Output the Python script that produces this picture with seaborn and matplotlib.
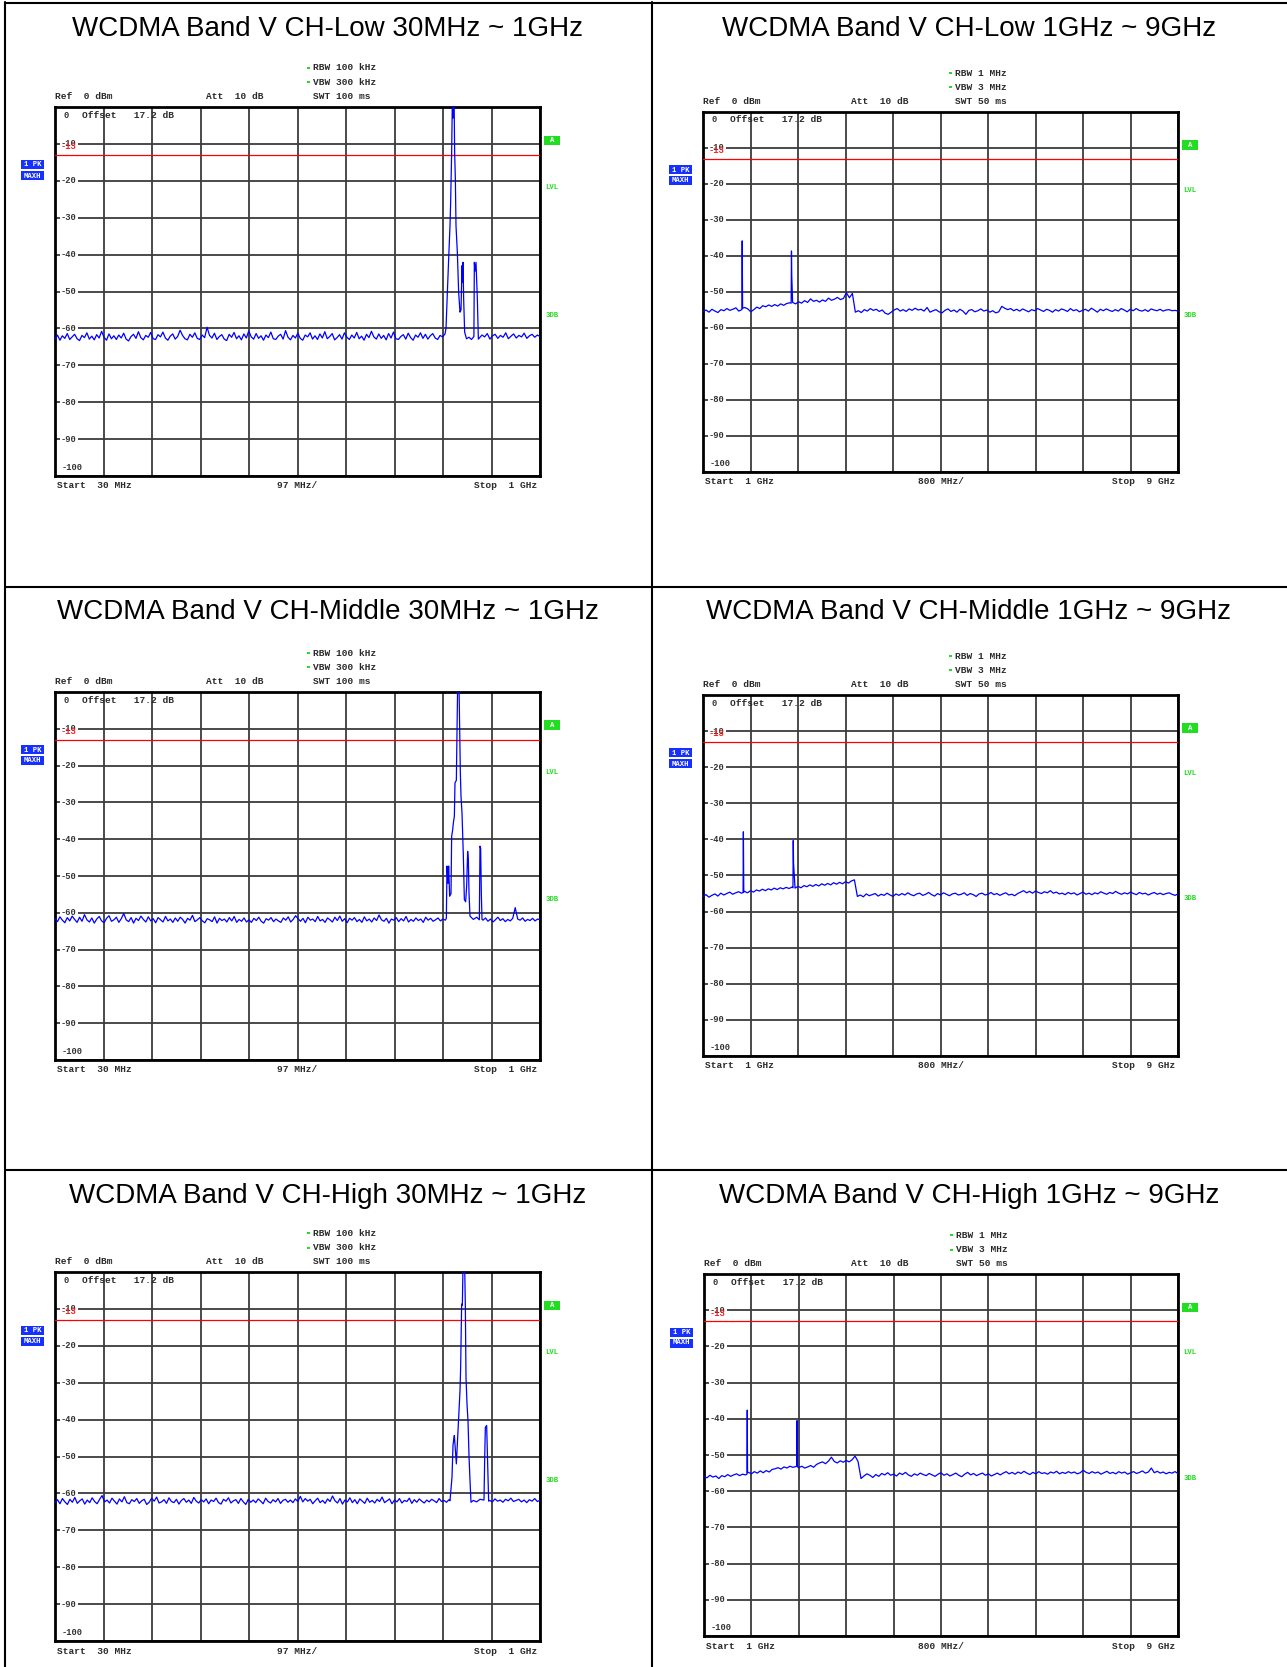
import numpy as np
import matplotlib
matplotlib.use("Agg")
import matplotlib.pyplot as plt
import seaborn as sns
from matplotlib.patches import Rectangle
from matplotlib.lines import Line2D

# ---------------- data ----------------
TITLES_LEFT = ["WCDMA Band V CH-Low 30MHz ~ 1GHz",
               "WCDMA Band V CH-Middle 30MHz ~ 1GHz",
               "WCDMA Band V CH-High 30MHz ~ 1GHz"]
TITLES_RIGHT = ["WCDMA Band V CH-Low 1GHz ~ 9GHz",
                "WCDMA Band V CH-Middle 1GHz ~ 9GHz",
                "WCDMA Band V CH-High 1GHz ~ 9GHz"]

SPAN_LEFT = (30, 1000)      # MHz
SPAN_RIGHT = (1, 9)         # GHz
Y_TICKS = [0, -10, -20, -30, -40, -50, -60, -70, -80, -90, -100]
Y_LABELS = ["0", "-10", "-20", "-30", "-40", "-50", "-60", "-70", "-80", "-90", "-100"]
LIMIT_DB = -13
LIMIT_LABEL = "-13"

LEFT_SETTINGS = ["RBW 100 kHz", "VBW 300 kHz", "SWT 100 ms"]
RIGHT_SETTINGS = ["RBW 1 MHz", "VBW 3 MHz", "SWT 50 ms"]
REF_TEXT = "Ref  0 dBm"
ATT_TEXT = "Att  10 dB"
OFFSET_TEXT = "Offset   17.2 dB"
LEFT_FOOTER = ["Start  30 MHz", "97 MHz/", "Stop  1 GHz"]
RIGHT_FOOTER = ["Start  1 GHz", "800 MHz/", "Stop  9 GHz"]

# ---- 30 MHz - 1 GHz, CH-Low ----
LOW_NOISE_BEFORE = [
    -62.9, -61.8, -63.2, -62.0, -62.7, -61.4, -63.0, -62.3, -61.6, -62.8,
    -63.3, -61.9, -62.5, -61.2, -62.9, -62.1, -63.1, -61.7, -62.6, -60.8,
    -62.4, -63.2, -61.5, -62.8, -62.0, -63.0, -61.8, -62.6, -61.3, -62.9,
    -63.4, -62.2, -61.6, -62.7, -60.9, -62.5, -63.1, -61.9, -62.4, -61.1,
    -62.8, -63.0, -61.7, -62.3, -61.0, -62.6, -63.2, -62.1, -61.5, -62.9,
    -62.2, -60.5, -61.9, -62.8, -63.1, -61.6, -62.4, -61.2, -62.7, -63.0,
    -61.8, -62.5, -59.7, -61.9, -62.6, -61.3, -63.0, -62.2, -61.7, -62.9,
    -63.3, -61.6, -62.4, -61.1, -62.8, -62.0, -63.1, -61.5, -62.6, -60.7,
    -62.3, -62.9, -61.4, -62.7, -62.0, -63.2, -61.8, -62.5, -61.0, -62.8,
    -63.0, -62.1, -61.6, -62.9, -60.6, -62.4, -63.1, -61.9, -62.6, -61.3,
    -62.7, -63.2, -61.8, -62.3, -61.2, -62.9, -62.0, -63.0, -61.5, -62.6,
    -60.9, -62.8, -62.2, -61.4, -63.1, -62.5, -61.7, -62.9, -61.2, -62.4,
    -63.0, -61.8, -62.6, -61.1, -62.8, -62.1, -63.2, -61.6, -62.5, -60.8,
    -62.3, -62.9, -61.5, -62.7, -61.9, -63.1, -61.4, -62.6, -61.0, -62.8,
    -63.0, -62.2, -61.7, -62.9, -61.3, -62.5, -63.2, -61.8, -62.4, -61.2,
    -62.7, -61.6, -62.9, -62.0, -61.4, -62.6, -63.0, -61.9, -62.3, -61.5]
LOW_PEAK_F = [812, 814.7, 817.3, 820, 821.3, 823.3, 824.7, 826, 827, 828.2,
              829.3, 830.7, 832, 834.7, 837.3, 840, 842, 844, 845, 846,
              847.3, 849.3, 853, 858, 863, 867.8, 868.7, 870, 872, 874.7, 876.7]
LOW_PEAK_V = [-60.0, -50.2, -41.2, -32.2, -25.8, -12.3, 2, -3, 2, 2,
              -12.3, -19.5, -32.2, -39.4, -50.2, -55.6, -55.0, -43.0, -47.5, -42.1,
              -52.0, -61.0, -62.8, -62.4, -63.0, -62.2, -42.1, -44.5, -42.1, -52.0, -62.9]
LOW_NOISE_AFTER = [-62.6, -61.8, -62.3, -61.4, -62.9, -62.0, -61.6, -62.7, -61.9,
                   -62.4, -61.2, -62.8, -62.1, -61.5, -62.6, -61.9, -62.3, -61.3,
                   -62.7, -62.0, -61.6, -62.4, -61.8, -62.2]

# ---- 30 MHz - 1 GHz, CH-Middle ----
MID_NOISE_BEFORE = [
    -61.6, -62.4, -61.1, -62.0, -62.7, -61.3, -62.2, -60.9, -61.8, -62.6,
    -61.2, -62.3, -60.5, -61.9, -62.5, -61.4, -62.8, -61.7, -61.0, -62.2,
    -62.7, -61.5, -60.8, -62.3, -61.9, -61.2, -62.6, -61.6, -60.2, -61.9,
    -62.4, -61.3, -62.8, -61.5, -62.1, -60.9, -61.8, -62.5, -61.1, -62.2,
    -61.6, -62.7, -61.3, -61.9, -62.5, -61.0, -62.2, -61.7, -62.6, -61.4,
    -62.3, -61.2, -61.8, -62.8, -61.5, -62.0, -60.7, -62.4, -61.9, -61.3,
    -62.2, -62.7, -61.6, -61.9, -62.4, -61.1, -62.8, -61.5, -62.1, -61.7,
    -62.5, -61.3, -62.2, -61.0, -62.6, -61.8, -62.3, -61.4, -62.5, -61.9,
    -62.6, -61.5, -62.1, -61.2, -62.3, -62.8, -61.6, -62.0, -61.3, -62.4,
    -61.7, -62.2, -62.6, -61.4, -62.0, -61.1, -62.5, -61.8, -60.8, -61.6,
    -62.3, -61.5, -62.7, -61.2, -62.0, -61.7, -62.4, -61.0, -62.2, -61.8,
    -62.6, -61.4, -61.9, -62.5, -61.2, -62.1, -60.9, -62.3, -61.6, -62.7,
    -61.5, -62.0, -61.3, -62.4, -61.8, -62.6, -61.1, -62.2, -61.7, -62.5,
    -61.4, -62.1, -60.6, -61.9, -62.3, -61.5, -62.8, -61.7, -62.0, -61.3,
    -62.4, -61.6, -62.2, -61.0, -62.5, -61.8, -62.3, -61.4, -62.1, -61.7,
    -62.6, -61.2, -62.0, -61.5, -62.3, -61.9, -61.4, -62.2, -61.7, -62.0]
MID_PEAK_F = [812.7, 814, 816, 817.3, 819.3, 822, 823.3, 825.3, 826.7, 828.7,
              830, 832.7, 834, 835.3, 838, 839.3, 840.7, 842, 844, 845.3,
              846.7, 848.7, 851.3, 853.3, 855.3, 856.7, 858, 860, 866.7, 873.3,
              878.7, 880, 881.3, 882.7, 884]
MID_PEAK_V = [-61.5, -47.3, -52.0, -47.3, -55.5, -54.8, -39.2, -37.5, -35.6, -33.8,
              -24.7, -24.0, -11.1, 2, 2, -10.2, -22.0, -28.3, -32.9, -38.3,
              -44.6, -56.4, -57.0, -52.8, -43.3, -45.5, -54.6, -60.9, -61.8, -61.2,
              -61.9, -41.9, -42.5, -55.0, -61.8]
MID_NOISE_AFTER = [-62.0, -61.4, -62.3, -61.7, -62.5, -61.9, -61.2, -62.1, -61.6,
                   -62.4, -61.8, -62.2, -61.5, -58.6, -61.7, -62.0, -61.4, -62.3,
                   -61.8, -62.1, -61.5, -62.2, -61.7, -61.9]

# ---- 30 MHz - 1 GHz, CH-High ----
HIGH_NOISE_BEFORE = [
    -62.5, -61.7, -62.8, -61.4, -62.3, -63.0, -61.6, -62.4, -61.1, -62.7,
    -62.0, -61.5, -62.9, -61.8, -62.5, -61.2, -62.2, -62.8, -61.6, -60.6,
    -62.3, -61.8, -62.6, -61.3, -62.1, -62.9, -61.5, -62.3, -60.9, -62.5,
    -62.8, -61.7, -62.2, -61.4, -62.7, -62.0, -61.6, -63.0, -62.4, -61.3,
    -62.1, -61.0, -62.6, -62.3, -61.7, -62.7, -61.2, -62.2, -62.5, -61.6,
    -62.9, -61.9, -61.4, -62.4, -61.8, -62.7, -61.1, -62.1, -62.6, -61.7,
    -62.3, -61.5, -62.8, -61.8, -62.2, -61.3, -62.5, -62.9, -61.6, -62.1,
    -61.2, -62.6, -62.0, -61.7, -62.7, -61.4, -62.3, -63.0, -61.6, -62.4,
    -61.8, -62.5, -61.5, -62.1, -62.8, -61.3, -62.2, -62.6, -61.7, -62.3,
    -61.4, -62.7, -61.9, -61.6, -62.4, -61.8, -62.5, -61.5, -62.2, -60.8,
    -62.3, -61.4, -62.1, -61.6, -62.8, -62.0, -61.3, -62.5, -61.9, -62.7,
    -61.5, -62.2, -60.7, -62.0, -62.6, -61.4, -62.9, -61.8, -62.3, -61.2,
    -62.5, -61.7, -62.8, -61.5, -62.1, -62.7, -61.3, -62.4, -61.9, -62.6,
    -61.6, -62.2, -61.0, -62.5, -62.0, -61.5, -62.8, -61.8, -62.3, -61.4,
    -62.6, -61.9, -62.2, -61.3, -62.7, -61.7, -62.4, -61.5, -62.1, -62.6,
    -61.8, -62.3, -61.6, -62.0, -62.5, -61.4, -62.2, -61.9, -62.4, -61.7]
HIGH_PEAK_F = [820, 821.3, 824, 826, 827.3, 828.7, 830.7, 832.7, 834.7, 837.3,
               840, 841.3, 843.3, 844.7, 846, 849.3, 850.7, 852, 854, 856,
               858, 860, 862, 866.7, 873.3, 880, 888, 889.3, 890.7, 893.3,
               895.3, 897.3]
HIGH_PEAK_V = [-62.0, -59.9, -55.6, -47.0, -45.5, -44.3, -48.3, -52.0, -46.6, -39.4,
               -32.2, -25.8, -8.7, -9.0, 2, 2, -9.6, -28.5, -35.7, -40.3,
               -49.8, -56.5, -62.4, -61.9, -62.3, -61.6, -61.8, -51.0, -42.1, -41.6,
               -52.0, -62.1]
HIGH_NOISE_AFTER = [-61.9, -62.3, -61.5, -62.1, -61.8, -62.4, -61.6, -62.0, -61.3,
                    -62.2, -61.9, -61.6, -62.3, -61.8, -62.5, -61.7, -62.1, -61.4,
                    -62.2, -61.9]

# ---- 1 GHz - 9 GHz (sweep points every 50 MHz) ----
LOW_HF = [
    -55.4, -55.0, -55.6, -54.8, -55.3, -55.7, -54.9, -55.2, -54.6, -55.1,
    -54.8, -54.4, -55.3, -54.9,
    -54.3, -54.7, -55.5, -54.9, -54.2, -54.6, -53.8, -54.1, -53.6, -54.0,
    -53.5, -53.9, -53.3, -53.7, -53.2, -53.0,
    -52.9, -53.3, -52.7, -53.1, -52.4, -52.9, -51.9, -52.6, -52.3,
    -52.8, -52.2, -52.6, -51.7, -52.3, -52.0, -51.5, -52.1, -51.8, -50.2,
    -51.6, -50.4, -55.6,
    -55.2, -55.7, -54.9, -55.3, -54.6, -55.1, -54.8, -55.4, -55.0, -55.9,
    -56.2, -55.6,
    -55.0, -54.6, -55.3, -54.9, -55.4, -54.7, -55.1, -54.5, -55.0, -54.8,
    -55.3, -54.3, -55.6, -55.2, -54.9, -55.5, -55.8, -55.1, -54.7, -55.4,
    -55.0, -55.6, -54.8, -55.3, -56.2, -55.1, -54.9, -55.5, -55.2, -54.7,
    -55.3, -55.0, -55.6, -55.2, -55.8, -55.5, -54.0,
    -54.5, -54.9, -54.6, -55.2, -54.8, -55.3, -54.7, -55.1, -55.5, -54.9,
    -55.2, -54.6, -55.0, -55.4, -54.8, -55.1, -55.6, -54.9, -55.3, -54.7,
    -55.0, -55.4, -54.6, -55.2, -54.9, -55.5, -55.1, -54.8, -55.3, -54.5,
    -55.0, -55.6, -54.8, -55.2, -54.7, -55.1, -55.4, -54.9, -55.3, -54.6,
    -55.0, -55.5, -54.8, -55.2, -54.6, -55.1, -55.3, -54.9, -55.4, -54.7,
    -55.0, -55.2, -54.8, -55.3, -55.0, -54.9, -55.2, -55.1, -55.3]
LOW_HF_SPIKE_F = [1.655, 1.66, 1.663, 1.667, 2.485, 2.49, 2.495]
LOW_HF_SPIKE_V = [-54.8, -35.8, -44.5, -54.5, -53.1, -38.6, -45.5]

MID_HF = [
    -55.8, -55.3, -56.0, -55.5, -55.1, -55.7, -54.9, -55.4, -55.0, -54.6,
    -55.2, -54.8, -54.5, -54.9,
    -54.4, -54.8, -54.2, -54.6, -54.0, -54.3, -53.8, -54.2, -53.7, -54.0,
    -53.5, -53.9, -53.4, -53.7, -53.3, -53.6,
    -53.2, -53.5, -53.0, -53.4, -52.8, -53.1, -52.6, -53.0, -52.5, -52.9,
    -52.3, -52.7, -52.2, -52.6, -52.0, -52.4, -51.9, -52.3, -51.7, -52.1,
    -51.5, -51.2, -55.8,
    -55.4, -55.9, -55.1, -55.6, -55.3, -55.0, -55.7, -55.2, -55.5, -54.9,
    -55.4, -55.8, -55.1, -55.5,
    -55.0, -55.4, -54.8, -55.3, -55.6, -55.1, -54.9, -55.5, -55.2, -54.7,
    -55.3, -55.7, -55.0, -55.4, -54.8, -55.2, -55.6, -55.1, -54.9, -55.4,
    -55.2, -54.8, -55.5, -55.0, -55.3, -55.8, -55.1, -54.9, -55.4, -55.2,
    -54.7, -55.3, -55.0, -55.5, -55.1, -54.8, -55.4, -55.2, -55.6, -55.0,
    -54.6, -54.2, -54.8, -54.4, -54.9, -54.3, -54.7, -55.0, -54.5, -54.8,
    -54.2, -54.9, -54.6, -55.1,
    -54.9, -55.3, -54.7, -55.1, -54.8, -55.4, -55.0, -54.6, -55.2, -54.9,
    -55.3, -54.8, -55.1, -54.5, -54.9, -55.2, -54.7, -55.0, -54.4, -54.9,
    -55.2, -54.8, -55.1, -54.6, -55.0, -55.3, -54.7, -55.1, -54.9, -55.4,
    -55.0, -54.7, -55.2, -54.9, -55.3, -55.0, -54.8, -55.2, -55.5, -55.1]
MID_HF_SPIKE_F = [1.675, 1.68, 1.683, 1.687, 2.515, 2.52, 2.525]
MID_HF_SPIKE_V = [-54.7, -37.9, -45.0, -54.6, -53.4, -40.3, -46.5]

HIGH_HF = [
    -55.9, -56.3, -55.6, -56.1, -55.8, -56.5, -55.7, -56.0, -55.4, -55.9,
    -55.5, -55.2, -55.7, -55.3, -55.5,
    -54.8, -55.2, -54.6, -55.0, -54.4, -54.9, -54.3, -54.7, -54.0, -53.8,
    -53.5, -53.9, -53.3, -53.6, -53.1, -53.4, -53.2,
    -53.5, -53.1, -53.6, -53.3, -52.9, -53.4, -52.6, -52.2, -51.9, -52.4,
    -51.7, -50.6, -51.8, -52.2, -51.6, -52.0, -51.5, -51.9, -51.3, -50.3,
    -51.8, -56.5,
    -55.8, -55.2, -55.6, -56.2, -55.4, -55.9, -55.1, -55.5, -54.9, -55.6,
    -55.3, -55.8, -55.0, -55.4, -54.8, -55.5, -55.9, -55.2, -55.6, -55.0,
    -55.4,
    -55.7, -55.1, -55.5, -55.9, -55.3, -54.9, -55.6, -55.2, -55.8, -55.4,
    -55.0, -55.6, -56.0, -55.3, -54.8, -55.5, -55.1, -55.7, -55.3, -55.0,
    -55.6, -55.2, -55.8, -55.4, -55.0, -55.5,
    -55.0, -54.6, -55.2, -54.8, -55.3, -54.7, -55.1, -54.5, -55.0, -55.4,
    -54.8, -55.2, -54.6, -55.1, -54.9, -55.3, -54.7, -55.0, -54.5, -55.2,
    -54.8, -55.1, -54.6, -55.0, -54.7, -55.2, -54.9,
    -54.2, -54.8, -55.1, -54.6, -55.0, -54.7, -55.3, -54.9, -54.5, -55.1,
    -54.8, -55.2, -54.6, -55.0, -54.7, -55.3, -54.9, -54.6, -55.1, -54.8,
    -54.4, -55.0, -54.7, -53.6, -54.9, -54.5, -55.0, -54.7, -55.2, -54.8,
    -55.0, -54.6, -55.1]
HIGH_HF_SPIKE_F = [1.725, 1.73, 1.735, 2.565, 2.57, 2.574, 2.578]
HIGH_HF_SPIKE_V = [-55.3, -37.6, -54.9, -53.0, -40.5, -47.0, -53.3]

# ---------------- layout / style ----------------
W_PX, H_PX = 1287, 1667
LEFT_BOXES = [(55, 107, 540, 476), (55, 692, 540, 1060), (55, 1272, 540, 1641)]
RIGHT_BOXES = [(703, 112, 1178, 472), (703, 695, 1178, 1056), (704, 1274, 1178, 1636)]
TITLE_BASELINES = [35.5, 619, 1202.5]
TITLE_X = [328, 969]

TRACE_C = "#0000ff"
GRID_C = "#3c3c3c"
GREEN = "#22dd22"
BLUE_BOX = "#1530ff"
MONO = ["Liberation Mono", "DejaVu Sans Mono"]

sns.set_theme(style="white")
plt.rcParams["font.family"] = ["Liberation Sans", "DejaVu Sans"]

fig = plt.figure(figsize=(W_PX / 100, H_PX / 100), dpi=100)
fig.patch.set_facecolor("white")


def ptext(x, y, s, **kw):
    return fig.text(x / W_PX, 1 - y / H_PX, s, **kw)


def prect(x, y, w, h, color):
    fig.add_artist(Rectangle((x / W_PX, 1 - (y + h) / H_PX), w / W_PX, h / H_PX,
                             transform=fig.transFigure, facecolor=color,
                             edgecolor="none"))


def pline(x0, y0, x1, y1, lw=1.5):
    fig.add_artist(Line2D([x0 / W_PX, x1 / W_PX], [1 - y0 / H_PX, 1 - y1 / H_PX],
                          transform=fig.transFigure, color="black", lw=lw))


def build_left(before, pf, pv, after):
    f1 = np.linspace(SPAN_LEFT[0], pf[0] - 2, len(before))
    f2 = np.linspace(pf[-1] + 2, SPAN_LEFT[1], len(after))
    f = np.concatenate([f1, np.asarray(pf, float), f2])
    v = np.concatenate([before, pv, after]).astype(float)
    return f, v


def build_right(base, sf, sv):
    f = np.linspace(SPAN_RIGHT[0], SPAN_RIGHT[1], len(base))
    ff = np.concatenate([f, sf])
    vv = np.concatenate([base, sv]).astype(float)
    order = np.argsort(ff, kind="stable")
    return ff[order], vv[order]


def draw_panel(box, f, v, span, settings, footer):
    L, T, R, B = box
    W, H = R - L, B - T
    ax = fig.add_axes([L / W_PX, 1 - B / H_PX, W / W_PX, H / H_PX])
    sns.lineplot(x=f, y=v, ax=ax, color=TRACE_C, linewidth=0.9, sort=False,
                 estimator=None, zorder=3)
    ax.set_xlim(*span)
    ax.set_ylim(-100, 0)
    ax.set_xticks(np.linspace(span[0], span[1], 11))
    ax.set_yticks(Y_TICKS)
    ax.grid(True, color=GRID_C, linewidth=1.3)
    ax.set_axisbelow(True)
    ax.tick_params(length=0, labelbottom=False, labelleft=False)
    ax.set_xlabel("")
    ax.set_ylabel("")
    ax.set_facecolor("white")
    for s in ax.spines.values():
        s.set_visible(True)
        s.set_color("black")
        s.set_linewidth(2.0)
    ax.axhline(LIMIT_DB, color="#ff0000", linewidth=0.9, zorder=2.8)

    # y labels drawn on the screen like the analyzer does
    for val, lab in zip(Y_TICKS, Y_LABELS):
        if val == 0:
            dx, dy, bb = 8, -8, None
        elif val == -100:
            dx, dy, bb = 7, 9, None
        else:
            dx, dy = 6, 0
            bb = dict(boxstyle="square,pad=0.12", fc="white", ec="none")
        ax.annotate(lab, xy=(0, val), xycoords=("axes fraction", "data"),
                    xytext=(dx, dy), textcoords="offset pixels", ha="left",
                    va="center", fontsize=6.3, family=MONO, weight="bold",
                    color="#333333", bbox=bb, zorder=2.5, annotation_clip=False)
    ax.annotate(LIMIT_LABEL, xy=(0, LIMIT_DB), xycoords=("axes fraction", "data"),
                xytext=(6, 8), textcoords="offset pixels", ha="left", va="center",
                fontsize=6.3, family=MONO, weight="bold", color="#ff2020",
                zorder=4, annotation_clip=False)

    mono = dict(family=MONO, weight="bold", fontsize=6.8, color="#2a2a2a", va="center")
    sx = L + 0.531 * W
    ptext(sx, T - 39, settings[0], ha="left", **mono)
    ptext(sx, T - 24.5, settings[1], ha="left", **mono)
    ptext(sx, T - 10.5, settings[2], ha="left", **mono)
    for yy in (T - 39, T - 24.5):
        prect(sx - 6, yy - 1, 3, 2, GREEN)
    ptext(L, T - 10.5, REF_TEXT, ha="left", **mono)
    ptext(L + 0.311 * W, T - 10.5, ATT_TEXT, ha="left", **mono)
    ptext(L + 27, T + 8, OFFSET_TEXT, ha="left", **mono)

    ptext(L + 2, B + 10, footer[0], ha="left", **mono)
    ptext(L + W / 2, B + 10, footer[1], ha="center", **mono)
    ptext(R - 3, B + 10, footer[2], ha="right", **mono)

    # trace / detector boxes at left
    small = dict(family=MONO, weight="bold", fontsize=5.2, color="white",
                 va="center", ha="center")
    prect(L - 34, T + 53.5, 23, 9, BLUE_BOX)
    ptext(L - 22.5, T + 58, "1 PK", **small)
    prect(L - 34, T + 64.5, 23, 9, BLUE_BOX)
    ptext(L - 22.5, T + 69, "MAXH", **small)
    # right side indicators
    prect(R + 3.5, T + 28.5, 16.5, 9.5, GREEN)
    ptext(R + 11.8, T + 33.3, "A", **small)
    green = dict(family=MONO, weight="bold", fontsize=5.2, color=GREEN,
                 va="center", ha="center")
    ptext(R + 12, T + 0.218 * H, "LVL", **green)
    ptext(R + 12, T + 0.564 * H, "3DB", **green)


left_data = [build_left(LOW_NOISE_BEFORE, LOW_PEAK_F, LOW_PEAK_V, LOW_NOISE_AFTER),
             build_left(MID_NOISE_BEFORE, MID_PEAK_F, MID_PEAK_V, MID_NOISE_AFTER),
             build_left(HIGH_NOISE_BEFORE, HIGH_PEAK_F, HIGH_PEAK_V, HIGH_NOISE_AFTER)]
right_data = [build_right(LOW_HF, LOW_HF_SPIKE_F, LOW_HF_SPIKE_V),
              build_right(MID_HF, MID_HF_SPIKE_F, MID_HF_SPIKE_V),
              build_right(HIGH_HF, HIGH_HF_SPIKE_F, HIGH_HF_SPIKE_V)]

for i in range(3):
    f, v = left_data[i]
    draw_panel(LEFT_BOXES[i], f, v, SPAN_LEFT, LEFT_SETTINGS, LEFT_FOOTER)
    f, v = right_data[i]
    draw_panel(RIGHT_BOXES[i], f, v, SPAN_RIGHT, RIGHT_SETTINGS, RIGHT_FOOTER)
    ptext(TITLE_X[0], TITLE_BASELINES[i], TITLES_LEFT[i], ha="center",
          va="baseline", fontsize=20, color="black")
    ptext(TITLE_X[1], TITLE_BASELINES[i], TITLES_RIGHT[i], ha="center",
          va="baseline", fontsize=20, color="black")

# table grid lines
pline(5, 2.5, 5, H_PX)
pline(652, 2.5, 652, H_PX)
pline(5, 3, W_PX, 3)
pline(5, 587, W_PX, 587)
pline(5, 1170, W_PX, 1170)

fig.savefig("out.png", dpi=100, facecolor="white")
